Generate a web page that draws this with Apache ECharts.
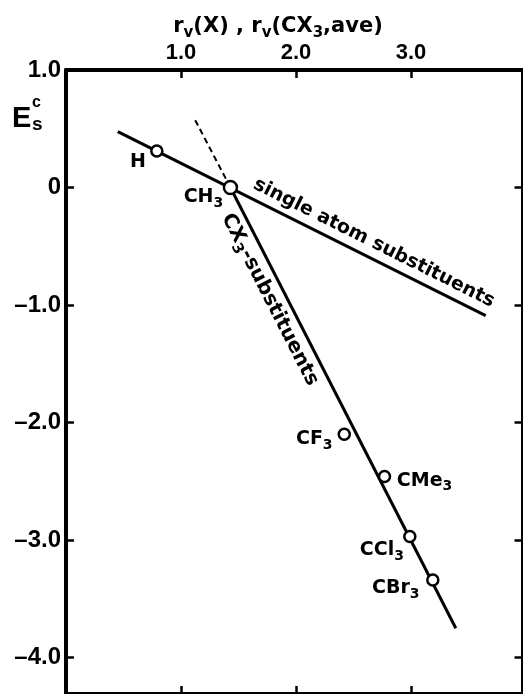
<!DOCTYPE html>
<html><head><meta charset="utf-8">
<script src="https://cdn.jsdelivr.net/npm/echarts@6/dist/echarts.min.js"></script>
<style>html,body{margin:0;padding:0;background:#fff}#c{width:523px;height:694px}</style>
</head><body><div id="c"></div>
<script>
// ---- data ----
const xTicks = [1, 2, 3];
const yTicks = [1, 0, -1, -2, -3, -4];
const names = ['H', 'CH3', 'CF3', 'CMe3', 'CCl3', 'CBr3'];
const rv = [0.79, 1.43, 2.42, 2.77, 2.99, 3.19];
const es = [0.31, 0.00, -2.10, -2.46, -2.97, -3.34];
const singleAtomLine = [[0.45, 0.475], [3.65, -1.09]];
const cx3Line = [[1.43, 0.00], [3.39, -3.75]];
const cx3Extension = [[1.43, 0.00], [1.12, 0.58]];

// ---- styling ----
const NUM = "'Liberation Sans', Arial, sans-serif";
const TXT = "'DejaVu Sans', sans-serif";
const labelOffset = {H: [-19, 11], CH3: [-27, 10], CF3: [-30, 5], CMe3: [40, 4], CCl3: [-28, 14], CBr3: [-37, 8]};
const subRich = {
  m: {fontFamily: TXT, fontWeight: 'bold', fontSize: 19, color: '#000'},
  s: {fontFamily: TXT, fontWeight: 'bold', fontSize: 14, color: '#000', padding: [12, 0, 0, 0]}
};
function richName(n) {
  return n.replace(/([A-Za-z]+)(\d)?/g, (a, b, d) => '{m|' + b + '}' + (d ? '{s|' + d + '}' : ''));
}

const chart = echarts.init(document.getElementById('c'), null, {renderer: 'canvas'});

const axisCommon = {
  type: 'value',
  axisLine: {show: true, onZero: false, lineStyle: {color: '#000', width: 4}},
  splitLine: {show: false},
  axisTick: {show: true, inside: true, length: 8, lineStyle: {color: '#000', width: 2.5}}
};

const pointData = names.map((n, i) => ({
  value: [rv[i], es[i]],
  name: n,
  symbolSize: n === 'CH3' ? 13 : 11,
  label: {offset: labelOffset[n], formatter: richName(n)}
}));

chart.setOption({
  animation: false,
  backgroundColor: '#fff',
  grid: {left: 66, top: 70, width: 456.5, height: 626.6},
  xAxis: [
    Object.assign({}, axisCommon, {
      position: 'top', min: 0, max: 3.97,
      axisTick: Object.assign({}, axisCommon.axisTick, {customValues: xTicks}),
      axisLabel: {show: true, customValues: xTicks, formatter: v => v.toFixed(1), margin: 6,
        fontFamily: NUM, fontWeight: 'bold', fontSize: 22, color: '#000'}
    }),
    Object.assign({}, axisCommon, {
      position: 'bottom', min: 0, max: 3.97,
      axisTick: Object.assign({}, axisCommon.axisTick, {customValues: xTicks}),
      axisLabel: {show: false}
    })
  ],
  yAxis: [
    Object.assign({}, axisCommon, {
      position: 'left', min: -4.31, max: 1.0,
      axisTick: Object.assign({}, axisCommon.axisTick, {customValues: yTicks}),
      axisLabel: {show: true, customValues: yTicks, margin: 5,
        formatter: v => v === 0 ? '0' : v.toFixed(1).replace('-', '\u2013'),
        fontFamily: NUM, fontWeight: 'bold', fontSize: 24, color: '#000'}
    }),
    Object.assign({}, axisCommon, {
      position: 'right', min: -4.31, max: 1.0,
      axisTick: Object.assign({}, axisCommon.axisTick, {customValues: yTicks}),
      axisLabel: {show: false}
    })
  ],
  series: [
    {type: 'line', data: singleAtomLine, symbol: 'none', lineStyle: {color: '#000', width: 3}, z: 2},
    {type: 'line', data: cx3Line, symbol: 'none', lineStyle: {color: '#000', width: 3}, z: 2},
    {type: 'line', data: cx3Extension, symbol: 'none', lineStyle: {color: '#000', width: 2, type: [6, 4]}, z: 2},
    {
      type: 'scatter', data: pointData, symbol: 'circle', z: 5,
      itemStyle: {color: '#fff', borderColor: '#000', borderWidth: 2.5, opacity: 1},
      label: {show: true, position: 'inside', rich: subRich, color: '#000'}
    }
  ]
});

function along(line, t, perp, text, size, rich) {
  const p0 = chart.convertToPixel({xAxisIndex: 0, yAxisIndex: 0}, line[0]);
  const p1 = chart.convertToPixel({xAxisIndex: 0, yAxisIndex: 0}, line[1]);
  const ang = Math.atan2(p1[1] - p0[1], p1[0] - p0[0]);
  return {
    type: 'text',
    x: p0[0] + t * (p1[0] - p0[0]),
    y: p0[1] + t * (p1[1] - p0[1]),
    rotation: -ang,
    z: 10,
    style: {text: text, x: 0, y: perp, align: 'center', verticalAlign: 'middle',
      fontFamily: TXT, fontWeight: 'bold', fontSize: size, fill: '#000', rich: rich}
  };
}

const rotRich = {
  m: {fontFamily: TXT, fontWeight: 'bold', fontSize: 20, fill: '#000', color: '#000'},
  s: {fontFamily: TXT, fontWeight: 'bold', fontSize: 15, fill: '#000', color: '#000', padding: [12, 0, 0, 0]}
};

chart.setOption({
  graphic: [
    along(singleAtomLine, 0.678, -15, 'single atom substituents', 19),
    along(cx3Line, 0.238, 16, '{m|CX}{s|3}{m|-substituents}', 20, rotRich),
    {
      type: 'text', x: 278, y: 27, z: 10,
      style: {
        text: '{r|r}{s|v}{r|(X) , r}{s|v}{r|(CX}{s|3}{r|,ave)}',
        align: 'center', verticalAlign: 'middle',
        rich: {
          r: {fontFamily: TXT, fontWeight: 'bold', fontSize: 21, fill: '#000', color: '#000'},
          s: {fontFamily: TXT, fontWeight: 'bold', fontSize: 15, fill: '#000', color: '#000', padding: [12, 0, 0, 0]}
        }
      }
    },
    {type: 'text', x: 12, y: 119, z: 10, style: {text: 'E', verticalAlign: 'middle', fontFamily: NUM, fontWeight: 'bold', fontSize: 29, fill: '#000'}},
    {type: 'text', x: 32, y: 103, z: 10, style: {text: 'c', verticalAlign: 'middle', fontFamily: NUM, fontWeight: 'bold', fontSize: 16, fill: '#000'}},
    {type: 'text', x: 32, y: 125, z: 10, style: {text: 's', verticalAlign: 'middle', fontFamily: NUM, fontWeight: 'bold', fontSize: 19, fill: '#000'}}
  ]
});
</script></body></html>
